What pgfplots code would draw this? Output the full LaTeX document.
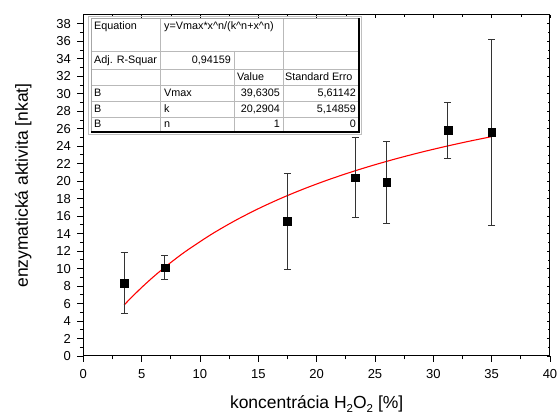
\documentclass[border=0pt]{standalone}
\usepackage{fontspec}
\setmainfont{Liberation Sans}
\usepackage{pgfplots}
\pgfplotsset{compat=1.18}
\newcommand{\sub}[1]{\raisebox{-0.42ex}{\fontsize{11.5}{12}\selectfont #1}}
\begin{document}
\begin{tikzpicture}
\path[use as bounding box] (-83.3pt,-58pt) rectangle (474.7pt,356pt);
\begin{axis}[
  at={(0pt,0pt)}, anchor=south west,
  scale only axis, width=466.7pt, height=341pt,
  xmin=0, xmax=40, ymin=0, ymax=39,
  xtick={0,5,...,40}, minor x tick num=1,
  ytick={0,2,...,38}, minor y tick num=1,
  axis x line*=bottom, axis y line*=left,
  tick align=outside,
  major tick length=6pt, minor tick length=3.5pt,
  every tick/.style={black, line width=0.8pt},
  axis line style={black, line width=1pt},
  ticklabel style={font=\fontsize{13}{15}\selectfont},
  /pgf/number format/assume math mode=true,
  xticklabel style={yshift=-4pt},
  yticklabel style={xshift=-3pt},
  xlabel={koncentrácia H\sub{2}O\sub{2} [\%]},
  ylabel={enzymatická aktivita [nkat]},
  label style={font=\fontsize{17.5}{20}\selectfont},
  xlabel style={at={(axis description cs:0.5,0)}, anchor=base, yshift=-53pt},
  ylabel style={at={(axis description cs:-0.1286,0.5)}, anchor=center},
  clip=false,
]
\addplot[red, line width=1.1pt, smooth] coordinates {
(3.5,5.830) (4,6.526) (5,7.835) (6,9.045) (7,10.165) (8,11.207) (9,12.177)
(11,13.932) (13,15.476) (15,16.845) (17,18.067) (19,19.164) (21,20.156)
(23,21.056) (25,21.876) (27,22.627) (29,23.317) (31,23.953) (33,24.541) (35,25.087)};
\addplot[only marks, mark=square*, mark size=3.9pt, black,
  error bars/.cd, y dir=both, y explicit,
  error bar style={line width=1pt, black!80},
  error mark options={rotate=90, mark size=3.5pt, line width=1pt, black!80}]
  table[x=x, y=y, y error=e] {
x y e
3.5 8.35 3.5
7.0 10.10 1.37
17.5 15.42 5.5
23.3 20.40 4.6
26.0 19.84 4.7
31.25 25.78 3.2
35.0 25.58 10.65
};
\end{axis}
\begin{axis}[
  at={(0pt,0pt)}, anchor=south west,
  scale only axis, width=466.7pt, height=341pt,
  xmin=0, xmax=40, ymin=0, ymax=39,
  xtick={0,5,...,40}, minor x tick num=1,
  ytick={0,2,...,38}, minor y tick num=1,
  axis x line*=top, axis y line*=right,
  tick align=inside,
  major tick length=3pt, minor tick length=2pt,
  every tick/.style={black, line width=0.6pt},
  axis line style={black, line width=1pt},
  xticklabels={}, yticklabels={},
]
\end{axis}
\begin{scope}[shift={(-83.3pt,356pt)}, x=1pt, y=-1pt]
  \fill[white] (91,18.5) rectangle (359,132);
  \draw[gray!55, line width=0.6pt]
    (160,18.5) -- (160,132)
    (234,51) -- (234,132)
    (283,18.5) -- (283,132)
    (91,51) -- (359,51)
    (91,69) -- (359,69)
    (91,85.5) -- (359,85.5)
    (91,101.5) -- (359,101.5)
    (91,117) -- (359,117);
  \draw[gray!70, line width=0.8pt] (91,132) -- (91,18.5) -- (359,18.5);
  \draw[black, line width=1.3pt] (359,18.5) -- (359,132) -- (91,132);
  \draw[gray!50, line width=0.5pt] (88.5,16) rectangle (361.5,134.5);
  \begin{scope}[every node/.style={inner sep=0pt, font=\fontsize{10.8}{12}\selectfont}]
    \node[anchor=base west] at (94,30) {Equation};
    \node[anchor=base west] at (164,30) {y=Vmax*x\textasciicircum n/(k\textasciicircum n+x\textasciicircum n)};
    \node[anchor=base west] at (94,64) {Adj. R-Squar};
    \node[anchor=base east] at (231,64) {0,94159};
    \node[anchor=base west] at (237,81) {Value};
    \node[anchor=base west] at (285,81) {Standard Erro};
    \node[anchor=base west] at (94,97) {B};
    \node[anchor=base west] at (164,97) {Vmax};
    \node[anchor=base east] at (280,97) {39,6305};
    \node[anchor=base east] at (356,97) {5,61142};
    \node[anchor=base west] at (94,112.5) {B};
    \node[anchor=base west] at (164,112.5) {k};
    \node[anchor=base east] at (280,112.5) {20,2904};
    \node[anchor=base east] at (356,112.5) {5,14859};
    \node[anchor=base west] at (94,128) {B};
    \node[anchor=base west] at (164,128) {n};
    \node[anchor=base east] at (280,128) {1};
    \node[anchor=base east] at (356,128) {0};
  \end{scope}
\end{scope}
\end{tikzpicture}
\end{document}
